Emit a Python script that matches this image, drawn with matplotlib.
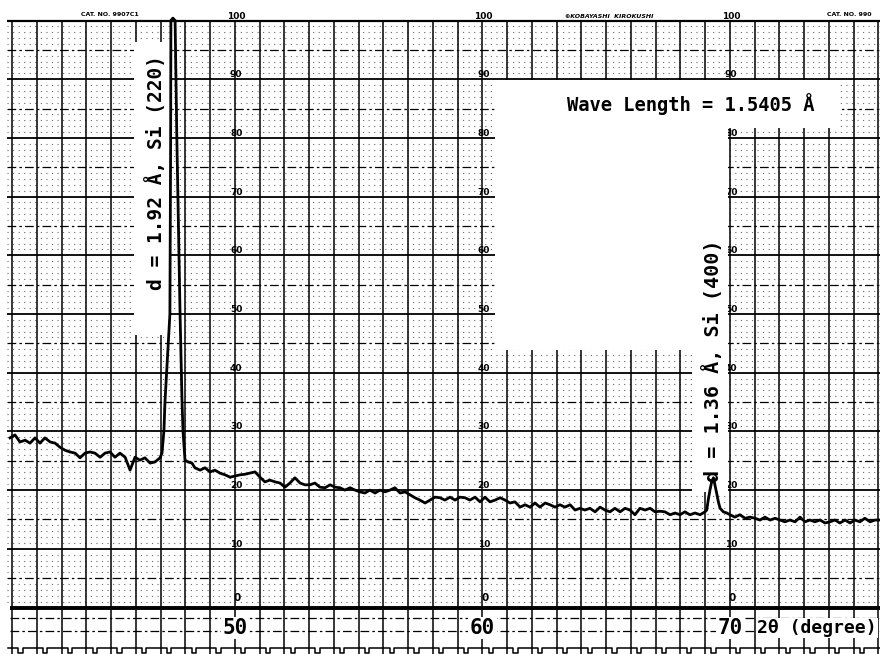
import matplotlib
matplotlib.use("Agg")
import matplotlib.pyplot as plt
from matplotlib.patches import Rectangle

# 2-theta (degree) and recorder reading (chart units, full scale = 100)
two_theta = [
    40.91, 41.11, 41.31, 41.52, 41.72, 41.92, 42.12, 42.32, 42.53, 42.73,
    42.93, 43.13, 43.33, 43.54, 43.74, 43.94, 44.14, 44.34, 44.55, 44.75,
    44.95, 45.15, 45.35, 45.56, 45.76, 45.96, 46.16, 46.36, 46.57, 46.77,
    46.97, 47.05, 47.13, 47.17, 47.37, 47.40, 47.41, 47.49, 47.58, 47.65,
    47.78, 47.86, 47.90, 47.98, 48.10, 48.26, 48.38, 48.59, 48.79, 48.99,
    49.19, 49.39, 49.60, 49.80, 50.00, 50.20, 50.40, 50.61, 50.81, 51.01,
    51.21, 51.41, 51.62, 51.82, 52.02, 52.22, 52.42, 52.63, 52.83, 53.03,
    53.23, 53.43, 53.64, 53.84, 54.04, 54.24, 54.44, 54.65, 54.85, 55.05,
    55.25, 55.45, 55.66, 55.86, 56.06, 56.26, 56.46, 56.67, 56.87, 57.07,
    57.27, 57.47, 57.68, 57.88, 58.08, 58.28, 58.48, 58.69, 58.89, 59.09,
    59.29, 59.49, 59.70, 59.90, 60.10, 60.30, 60.51, 60.71, 60.91, 61.11,
    61.31, 61.52, 61.72, 61.92, 62.12, 62.32, 62.53, 62.73, 62.93, 63.13,
    63.33, 63.54, 63.74, 63.94, 64.14, 64.34, 64.55, 64.75, 64.95, 65.15,
    65.35, 65.56, 65.76, 65.96, 66.16, 66.36, 66.57, 66.77, 66.97, 67.17,
    67.37, 67.58, 67.78, 67.98, 68.18, 68.38, 68.59, 68.79, 68.99, 69.06,
    69.12, 69.19, 69.26, 69.33, 69.39, 69.46, 69.53, 69.60, 69.73, 69.87,
    70.00, 70.20, 70.40, 70.61, 70.81, 71.01, 71.21, 71.41, 71.62, 71.82,
    72.02, 72.22, 72.42, 72.63, 72.83, 73.03, 73.23, 73.43, 73.64, 73.84,
    74.04, 74.24, 74.44, 74.65, 74.85, 75.05, 75.25, 75.45, 75.66, 75.86,
    76.06,
]
counts = [
    28.9, 29.4, 28.2, 28.5, 28.0, 28.9, 28.0, 28.9, 28.2, 28.0,
    27.3, 26.8, 26.5, 26.3, 25.5, 26.3, 26.5, 26.3, 25.6, 26.3,
    26.5, 25.6, 26.3, 25.6, 23.4, 25.6, 25.1, 25.5, 24.6, 24.8,
    25.5, 26.3, 30.2, 35.0, 50.0, 80.0, 100.0, 100.4, 100.0, 80.0,
    50.0, 35.0, 30.0, 25.1, 24.8, 24.6, 23.8, 23.4, 23.8, 23.1,
    23.4, 22.9, 22.6, 22.2, 22.4, 22.6, 22.7, 22.9, 23.1, 22.2,
    21.4, 21.7, 21.4, 21.2, 20.5, 21.2, 22.1, 21.2, 20.9, 20.9,
    21.2, 20.5, 20.4, 20.9, 20.5, 20.4, 20.0, 20.4, 20.0, 19.7,
    19.5, 20.0, 19.5, 20.0, 19.7, 20.0, 20.4, 19.5, 19.7, 19.2,
    18.7, 18.3, 17.8, 18.3, 18.8, 18.7, 18.3, 18.8, 18.3, 18.8,
    18.7, 18.3, 18.8, 18.0, 18.8, 18.0, 18.3, 18.7, 18.3, 17.8,
    18.0, 17.1, 17.5, 17.1, 17.8, 17.1, 17.8, 17.5, 17.1, 17.5,
    17.1, 17.5, 16.6, 16.9, 16.6, 16.9, 16.3, 17.1, 16.6, 16.3,
    16.9, 16.3, 16.9, 16.6, 15.8, 16.9, 16.6, 16.9, 16.3, 16.4,
    16.3, 15.8, 16.1, 15.8, 16.3, 15.8, 16.1, 15.8, 16.3, 16.6,
    18.3, 20.0, 21.4, 22.1, 20.9, 19.5, 18.0, 16.9, 16.3, 16.1,
    15.8, 15.4, 15.8, 15.2, 15.4, 15.2, 14.9, 15.4, 14.9, 15.2,
    14.9, 14.6, 14.9, 14.6, 15.4, 14.6, 14.9, 14.6, 14.9, 14.4,
    14.6, 14.9, 14.4, 14.9, 14.4, 14.9, 14.6, 15.2, 14.6, 14.9,
    14.9,
]

paper_scale = [0, 10, 20, 30, 40, 50, 60, 70, 80, 90, 100]
scale_columns = [50, 60, 70]
angle_ticks = [50, 60, 70]
peak_labels = ["d = 1.92 Å, Si (220)", "d = 1.36 Å, Si (400)"]
wavelength_label = "Wave Length = 1.5405 Å"
axis_label = "2θ (degree)"

# chart paper geometry (pixels of the scanned sheet -> data units)
PX_DEG = 24.75
X_AT_0 = 50 - 235 / PX_DEG
PX_UNIT = 5.87
Y_BASE = 607.5


def gx(px):
    return X_AT_0 + px / PX_DEG


def gy(py):
    return (Y_BASE - py) / PX_UNIT


fig = plt.figure(figsize=(8.8, 6.54), dpi=100)
ax = fig.add_axes([0, 0, 1, 1])
ax.set_xlim(gx(0), gx(880))
ax.set_ylim(gy(654), gy(0))
ax.axis("off")

left, right, bottom = gx(7), gx(880), gy(654)
mono = "DejaVu Sans Mono"

# grid of the recorder paper
minor = [v for v in range(1, 100) if v % 5]
ax.hlines(minor, left, right, colors="#6a6a6a", lw=0.8, linestyles=(0, (1, 4)), zorder=1)
ax.hlines(list(range(5, 100, 10)), left, right, colors="k", lw=0.9,
          linestyles=(0, (7, 2.5, 2, 2.5)), zorder=1)
ax.hlines([-1.8, -4.0], gx(10), right, colors="k", lw=0.9,
          linestyles=(0, (7, 2.5, 2, 2.5)), zorder=1)
ax.hlines(list(range(10, 100, 10)), left, right, colors="k", lw=1.3, zorder=1)
ax.hlines(100, left, right, colors="k", lw=1.6, zorder=1)
ax.vlines(list(range(41, 77)), bottom, 100, colors="k", lw=1.1, zorder=1)
ax.hlines(0, gx(10), right, colors="k", lw=2.8, zorder=2)

# sprocket edge at the bottom of the sheet
hi, lo = gy(647.5), gy(652.5)
xs, ys = [gx(8)], [hi]
for g in range(41, 77):
    xs += [g + 0.25, g + 0.25, g + 0.42, g + 0.42]
    ys += [hi, lo, lo, hi]
ax.plot(xs, ys, color="k", lw=1.1, zorder=2)

# printed scale numbers on the paper
for col in scale_columns:
    for v in paper_scale:
        if v == 0:
            ax.text(col + 0.1, 1.7, "0", fontsize=7.5, weight="bold",
                    ha="center", va="center", zorder=2)
        else:
            ax.text(col + 0.05, v + 0.75, str(v), fontsize=6.5, weight="bold",
                    ha="center", va="center", zorder=2)

ax.text(gx(110), gy(15), "CAT. NO. 9907C1", fontsize=4.5, weight="bold",
        ha="center", va="center")
ax.text(gx(609), gy(16), "⊕KOBAYASHI  KIROKUSHI", fontsize=4.5, weight="bold",
        style="italic", ha="center", va="center")
ax.text(gx(827), gy(15), "CAT. NO. 990", fontsize=4.5, weight="bold",
        ha="left", va="center")

# pasted-over blank areas for the typed labels
for x0, y0, x1, y1 in [(134, 42, 170, 335), (495, 80, 728, 350),
                       (728, 80, 840, 128), (692, 350, 728, 492)]:
    ax.add_patch(Rectangle((gx(x0), gy(y1)), gx(x1) - gx(x0), gy(y0) - gy(y1),
                           fc="white", ec="none", zorder=3))

# the pen trace
ax.plot(two_theta, counts, color="k", lw=2.0, solid_joinstyle="round", zorder=5)

ax.text(gx(156), gy(172), peak_labels[0], rotation=90, ha="center", va="center",
        family=mono, weight="bold", fontsize=14, zorder=6)
ax.text(gx(713), gy(361), peak_labels[1], rotation=90, ha="center", va="center",
        family=mono, weight="bold", fontsize=14.5, zorder=6)
ax.text(gx(691), gy(104), wavelength_label, ha="center", va="center",
        family=mono, weight="bold", fontsize=13.5, zorder=6)

for a in angle_ticks:
    ax.text(a, gy(628), str(a), ha="center", va="center", family=mono,
            weight="bold", fontsize=15, zorder=6,
            bbox=dict(fc="white", ec="none", pad=1))
ax.text(gx(757), gy(628), axis_label, ha="left", va="center", family=mono,
        weight="bold", fontsize=13, zorder=6,
        bbox=dict(fc="white", ec="none", pad=1))

fig.savefig("out.png", dpi=100)
